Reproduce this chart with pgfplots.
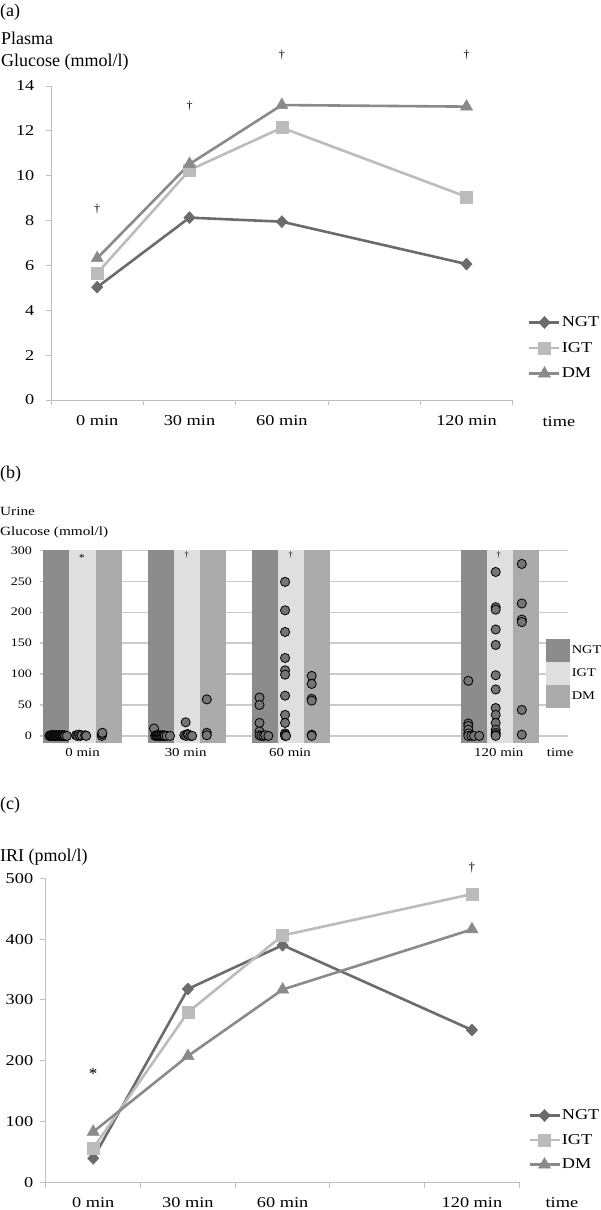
\documentclass[border=0pt]{standalone}
\usepackage{fontspec}
\setmainfont{Liberation Serif}
\newfontfamily\wide{Liberation Serif}[FakeStretch=1.22]
\usepackage{pgfplots}
\pgfplotsset{compat=1.18}

\definecolor{ngt}{HTML}{6B6B6B}
\definecolor{igt}{HTML}{BCBCBC}
\definecolor{dm}{HTML}{8A8A8A}
\definecolor{axgray}{HTML}{BFBFBF}
\definecolor{barN}{HTML}{8C8C8C}
\definecolor{barI}{HTML}{DFDFDF}
\definecolor{barD}{HTML}{ABABAB}
\definecolor{dotc}{HTML}{757575}
\definecolor{gridc}{HTML}{CBCBCB}

\pgfplotsset{
 linepanel/.style={
  scale only axis, anchor=south west,
  xmin=0, xmax=5, ymin=0,
  axis lines*=left,
  axis line style={draw=axgray, line width=0.9pt},
  tick style={draw=axgray, line width=0.9pt},
  tick align=outside,
  major tick length=5.5pt,
  xtick={0,1,2,3,4,5}, xticklabels={},
  extra x ticks={0.5,1.5,2.5,4.5},
  extra x tick labels={0 min,30 min,60 min,120 min},
  extra x tick style={major tick length=0pt},
  /pgf/number format/assume math mode=true,
  tick label style={font=\wide\fontsize{15}{16}\selectfont, inner sep=0pt},
  xticklabel style={anchor=center, yshift=-20.7pt},
  clip=false,
  legend cell align=left,
  legend image code/.code={\draw[#1, mark repeat=2, mark phase=2] plot coordinates {(0pt,0pt) (15pt,0pt) (30pt,0pt)};},
 },
 ngtline/.style={ngt, line width=2.6pt, mark=diamond*, mark size=6pt, mark options={solid, fill=ngt, draw=ngt, line width=0.5pt, xscale=1.25}},
 igtline/.style={igt, line width=2.6pt, mark=square*, mark size=6pt, mark options={solid, fill=igt, draw=igt, line width=0.5pt}},
 dmline/.style={dm, line width=2.6pt, mark=triangle*, mark size=7pt, mark options={solid, fill=dm, draw=dm, line width=0.5pt}},
}

\begin{document}
\begin{tikzpicture}[x=1pt,y=1pt]
\useasboundingbox (0,0) rectangle (600,1210);

% ---------- (a) ----------
\node[anchor=base west, inner sep=0pt, font=\fontsize{18}{20}\selectfont] at (0,1193.5) {(a)};
\node[anchor=base west, inner sep=0pt, font=\fontsize{18}{20}\selectfont] at (1,1165) {Plasma};
\node[anchor=base west, inner sep=0pt, font=\fontsize{18}{20}\selectfont] at (1,1143.3) {Glucose (mmol/l)};

\begin{axis}[linepanel, at={(51pt,810pt)}, width=461.7pt, height=314pt,
  ymax=14, ytick={0,2,...,14},
  yticklabel style={anchor=east, xshift=-11pt},
  legend style={at={(1.0331,0.1656)}, anchor=west, draw=none, fill=none, inner sep=0pt, row sep=12pt,
    font=\wide\fontsize{15}{16}\selectfont, nodes={inner sep=1pt}}]
\addplot[ngtline] coordinates {(0.5,5.03) (1.5,8.13) (2.5,7.95) (4.5,6.06)};
\addlegendentry{NGT}
\addplot[igtline] coordinates {(0.5,5.65) (1.5,10.25) (2.5,12.14) (4.5,9.06)};
\addlegendentry{IGT}
\addplot[dmline] coordinates {(0.5,6.32) (1.5,10.52) (2.5,13.15) (4.5,13.08)};
\addlegendentry{DM}
\node[font=\fontsize{12}{13}\selectfont] at (axis cs:0.5,8.52) {†};
\node[font=\fontsize{12}{13}\selectfont] at (axis cs:1.5,13.1) {†};
\node[font=\fontsize{12}{13}\selectfont] at (axis cs:2.5,15.4) {†};
\node[font=\fontsize{12}{13}\selectfont] at (axis cs:4.5,15.4) {†};
\node[font=\wide\fontsize{15}{16}\selectfont] at (axis cs:5.5,0) [yshift=-21.7pt] {time};
\end{axis}

% ---------- (b) ----------
\node[anchor=base west, inner sep=0pt, font=\fontsize{18}{20}\selectfont] at (0,731.5) {(b)};
\node[anchor=base west, inner sep=0pt, font=\wide\fontsize{12.5}{14}\selectfont] at (0,694) {Urine};
\node[anchor=base west, inner sep=0pt, font=\wide\fontsize{12.5}{14}\selectfont] at (0,674.3) {Glucose (mmol/l)};

\begin{axis}[scale only axis, anchor=south west, at={(40pt,467.3pt)}, width=528pt, height=193pt,
  xmin=-0.13, xmax=20.1, ymin=-11, ymax=301,
  axis line style={draw=none},
  ytick={0,50,...,300}, ymajorgrids, grid style={draw=gridc, line width=1.3pt},
  major tick length=0pt,
  xtick={1.5,5.45,9.45,17.45}, xticklabels={0 min,30 min,60 min,120 min},
  /pgf/number format/assume math mode=true,
  tick label style={font=\wide\fontsize{11.5}{13}\selectfont, inner sep=0pt},
  yticklabel style={anchor=east, xshift=-8pt},
  xticklabel style={anchor=center, yshift=-9.5pt, font=\wide\fontsize{12.2}{13}\selectfont},
  clip=false,
  legend cell align=left,
  legend image code/.code={\fill[#1] (0pt,-11.5pt) rectangle (24.3pt,11.5pt);},
  legend style={at={(0.958,0.537)}, anchor=north west, draw=none, fill=none, inner sep=0pt, row sep=0pt,
    font=\wide\fontsize{11.8}{13}\selectfont, nodes={inner sep=1.5pt}}]
% bars
\addplot[fill=barN, draw=none, forget plot] coordinates {(0,-11) (1,-11) (1,301) (0,301)};
\addplot[fill=barI, draw=none, forget plot] coordinates {(1,-11) (2,-11) (2,301) (1,301)};
\addplot[fill=barD, draw=none, forget plot] coordinates {(2,-11) (3,-11) (3,301) (2,301)};
\addplot[fill=barN, draw=none, forget plot] coordinates {(4,-11) (5,-11) (5,301) (4,301)};
\addplot[fill=barI, draw=none, forget plot] coordinates {(5,-11) (6,-11) (6,301) (5,301)};
\addplot[fill=barD, draw=none, forget plot] coordinates {(6,-11) (7,-11) (7,301) (6,301)};
\addplot[fill=barN, draw=none, forget plot] coordinates {(8,-11) (9,-11) (9,301) (8,301)};
\addplot[fill=barI, draw=none, forget plot] coordinates {(9,-11) (10,-11) (10,301) (9,301)};
\addplot[fill=barD, draw=none, forget plot] coordinates {(10,-11) (11,-11) (11,301) (10,301)};
\addplot[fill=barN, draw=none, forget plot] coordinates {(16,-11) (17,-11) (17,301) (16,301)};
\addplot[fill=barI, draw=none, forget plot] coordinates {(17,-11) (18,-11) (18,301) (17,301)};
\addplot[fill=barD, draw=none, forget plot] coordinates {(18,-11) (19,-11) (19,301) (18,301)};
% individual values
\addplot[only marks, mark=*, mark size=4.6pt, mark options={fill=dotc, draw=black, line width=0.8pt}, forget plot] coordinates {
 (0.23,0) (0.26,1) (0.29,0) (0.32,1) (0.35,0) (0.38,1) (0.41,0) (0.44,1) (0.47,0) (0.5,1) (0.53,0) (0.56,1)
 (0.59,0) (0.62,1) (0.65,0) (0.68,1) (0.71,0) (0.74,1) (0.77,0) (0.8,1) (0.83,0) (0.9,0)
 (1.25,1) (1.3,0) (1.36,2) (1.41,0) (1.47,1) (1.6,1) (1.64,0)
 (2.24,0) (2.24,3) (2.26,5)
 (4.24,12) (4.28,0) (4.32,1) (4.35,0) (4.39,1) (4.42,0) (4.46,1) (4.5,0) (4.54,1) (4.58,0) (4.62,1) (4.65,0) (4.72,0) (4.85,0)
 (5.45,22) (5.4,1) (5.47,0) (5.52,3) (5.55,2) (5.63,0) (5.7,0)
 (6.26,59) (6.26,5) (6.26,1)
 (8.28,62) (8.28,50) (8.28,21) (8.28,7) (8.28,1) (8.35,0) (8.43,0) (8.5,1) (8.62,0)
 (9.26,249) (9.26,203) (9.26,168) (9.26,126) (9.26,106) (9.26,99) (9.26,65) (9.26,34) (9.26,21) (9.26,4) (9.26,2) (9.26,0) (9.3,0)
 (10.28,97) (10.28,84) (10.28,60) (10.28,57) (10.28,2) (10.28,0)
 (16.28,89) (16.28,20) (16.28,16) (16.28,10) (16.28,4) (16.28,0) (16.4,0) (16.5,0) (16.7,0)
 (17.33,265) (17.33,208) (17.33,204) (17.33,172) (17.33,147) (17.33,98) (17.33,75) (17.33,45) (17.33,34) (17.33,21) (17.33,10) (17.33,5) (17.33,2) (17.33,0)
 (18.33,278) (18.33,214) (18.33,188) (18.33,184) (18.33,42) (18.33,2)
};
\addlegendimage{fill=barN, draw=none}\addlegendentry{NGT}
\addlegendimage{fill=barI, draw=none}\addlegendentry{IGT}
\addlegendimage{fill=barD, draw=none}\addlegendentry{DM}
\node[font=\fontsize{11}{12}\selectfont] at (axis cs:1.47,288) {*};
\node[font=\fontsize{8.5}{9}\selectfont] at (axis cs:5.49,293) {†};
\node[font=\fontsize{8.5}{9}\selectfont] at (axis cs:9.48,293) {†};
\node[font=\fontsize{8.5}{9}\selectfont] at (axis cs:17.45,293) {†};
\node[font=\wide\fontsize{12.2}{13}\selectfont] at (axis cs:19.8,-11) [yshift=-9.5pt] {time};
\end{axis}

% ---------- (c) ----------
\node[anchor=base west, inner sep=0pt, font=\fontsize{18}{20}\selectfont] at (0,400) {(c)};
\node[anchor=base west, inner sep=0pt, font=\fontsize{18}{20}\selectfont] at (0,348.3) {IRI (pmol/l)};

\begin{axis}[linepanel, at={(45.9pt,27.7pt)}, width=473.4pt, height=304pt,
  ymax=500, ytick={0,100,...,500},
  yticklabel style={anchor=east, xshift=-7pt},
  legend style={at={(1.0184,0.139)}, anchor=west, draw=none, fill=none, inner sep=0pt, row sep=11pt,
    font=\wide\fontsize{15}{16}\selectfont, nodes={inner sep=1pt}}]
\addplot[ngtline] coordinates {(0.5,39.5) (1.5,318) (2.5,390) (4.5,250.5)};
\addlegendentry{NGT}
\addplot[igtline] coordinates {(0.5,56) (1.5,279.6) (2.5,406) (4.5,474)};
\addlegendentry{IGT}
\addplot[dmline] coordinates {(0.5,83) (1.5,207.7) (2.5,317) (4.5,416)};
\addlegendentry{DM}
\node[font=\fontsize{17}{18}\selectfont] at (axis cs:0.5,178) {*};
\node[font=\fontsize{13}{14}\selectfont] at (axis cs:4.5,518) {†};
\node[font=\wide\fontsize{15}{16}\selectfont] at (axis cs:5.45,0) [yshift=-20.5pt] {time};
\end{axis}
\end{tikzpicture}
\end{document}
